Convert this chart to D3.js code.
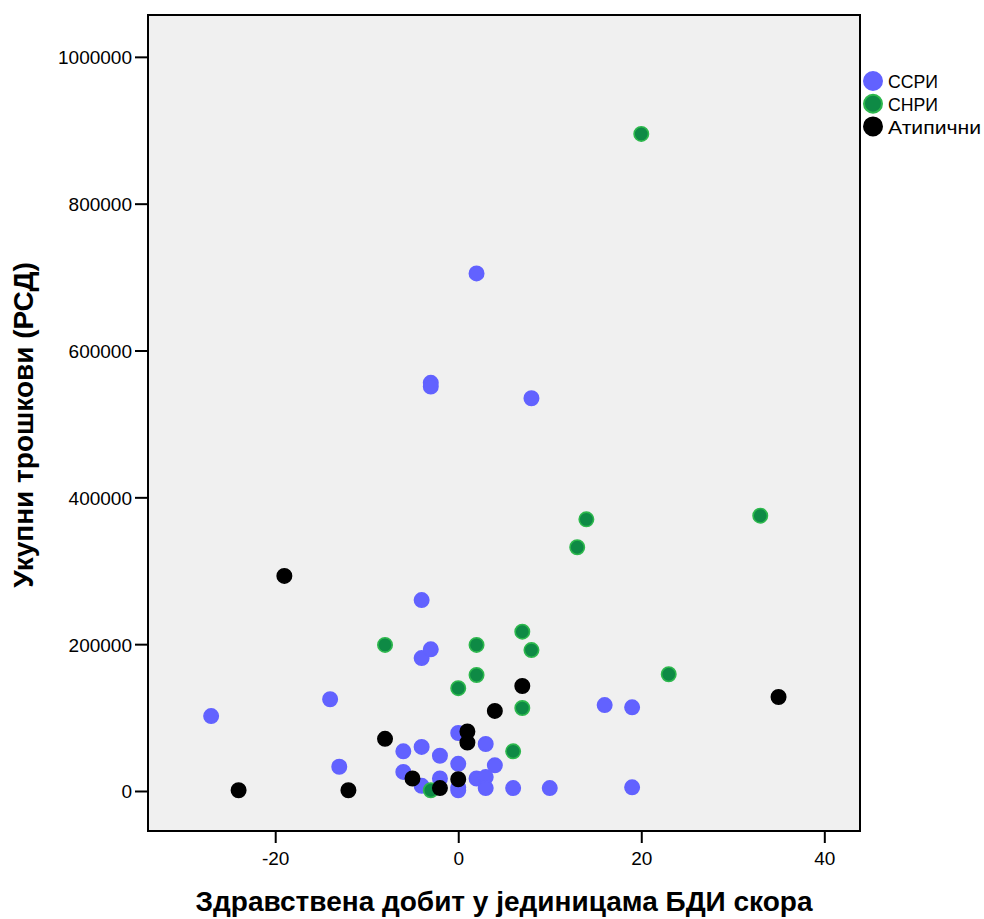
<!DOCTYPE html>
<html><head><meta charset="utf-8">
<script src="https://cdn.jsdelivr.net/npm/d3@7"></script>
<style>body{margin:0;background:#fff}svg{display:block}text{font-family:"Liberation Sans",Arial,sans-serif}</style>
</head><body><svg id="c" width="984" height="919"></svg>
<script>
const groups = ["ССРИ", "СНРИ", "Атипични"];
const groupColors = ["#6262ff", "#0e8a45", "#000000"];
const groupStrokes = ["#6262ff", "#2db84d", "#000000"];
const xTicks = [-20, 0, 20, 40];
const yTicks = [0, 200000, 400000, 600000, 800000, 1000000];

// ССРИ
const ssriX = [-27,-14,-13,-4,-3,-4,-3,-3,2,8,16,19,19,10,6,0,3,-6,-4,-2,0,4,-6,-4,-2,0,0,2,3,3];
const ssriY = [102000,125000,33000,181000,193000,260000,556000,551000,705000,535000,117000,114000,5000,4000,4000,79000,64000,54000,60000,48000,37000,35000,26000,7000,17000,5000,1000,17000,19000,4000];
// СНРИ
const snriX = [20,14,13,33,23,-8,2,7,8,2,0,7,6,-3];
const snriY = [895000,370000,332000,375000,159000,199000,199000,217000,192000,158000,140000,113000,54000,1000];
// Атипични
const atypX = [-24,-12,-19,-8,-5,-2,0,1,1,4,7,35];
const atypY = [1000,1000,293000,71000,17000,4000,16000,81000,66000,109000,143000,128000];

const svg = d3.select("#c");
const L = 148, R = 860, T = 15, B = 831;
const x = d3.scaleLinear().domain([-33.9, 43.9]).range([L, R]);
const y = d3.scaleLinear().domain([-54500, 1057000]).range([B, T]);

svg.append("rect").attr("x", L).attr("y", T).attr("width", R - L).attr("height", B - T)
  .attr("fill", "#f0f0f0");

const yAxis = svg.append("g").attr("transform", `translate(${L},0)`)
  .call(d3.axisLeft(y).tickValues(yTicks).tickFormat(d3.format("d")).tickSize(13).tickPadding(3));
const xAxis = svg.append("g").attr("transform", `translate(0,${B})`)
  .call(d3.axisBottom(x).tickValues(xTicks).tickFormat(d3.format("d")).tickSize(12).tickPadding(9));
[yAxis, xAxis].forEach(a => {
  a.select(".domain").remove();
  a.selectAll(".tick line").attr("stroke", "#000").attr("stroke-width", 2);
  a.selectAll(".tick text").attr("font-size", 19).attr("fill", "#000")
    .style("font-family", "'Liberation Sans',Arial,sans-serif");
});
yAxis.selectAll(".tick text").attr("dy", "0.36em");
xAxis.selectAll(".tick text").text(d => d < 0 ? "-" + Math.abs(d) : d);

const data = [];
ssriX.forEach((v, i) => data.push({g: 0, x: v, y: ssriY[i]}));
snriX.forEach((v, i) => data.push({g: 1, x: v, y: snriY[i]}));
atypX.forEach((v, i) => data.push({g: 2, x: v, y: atypY[i]}));

const pts = svg.append("g");
[0, 1, 2].forEach(g => {
  pts.selectAll(null).data(data.filter(d => d.g === g)).enter().append("circle")
    .attr("cx", d => x(d.x)).attr("cy", d => y(d.y)).attr("r", 7.2)
    .attr("fill", groupColors[g]).attr("stroke", groupStrokes[g]).attr("stroke-width", 1.6);
});

svg.append("rect").attr("x", L).attr("y", T).attr("width", R - L).attr("height", B - T)
  .attr("fill", "none").attr("stroke", "#000").attr("stroke-width", 2);

const legLens = [50, 50, 93];
const leg = svg.append("g");
groups.forEach((g, i) => {
  leg.append("circle").attr("cx", 873).attr("cy", 81 + i * 22.7).attr("r", 9)
    .attr("fill", groupColors[i]).attr("stroke", groupStrokes[i]).attr("stroke-width", 2);
  leg.append("text").attr("x", 888).attr("y", 87.5 + i * 23).attr("font-size", 18.5)
    .attr("textLength", legLens[i]).attr("lengthAdjust", "spacingAndGlyphs")
    .attr("fill", "#000").text(g);
});

svg.append("text").attr("x", 504).attr("y", 911).attr("text-anchor", "middle")
  .attr("font-size", 28).attr("font-weight", "bold").attr("fill", "#000")
  .text("Здравствена добит у јединицама БДИ скора");
svg.append("text").attr("transform", "translate(33,425) rotate(-90)").attr("text-anchor", "middle")
  .attr("font-size", 28).attr("font-weight", "bold").attr("fill", "#000")
  .text("Укупни трошкови (РСД)");
</script></body></html>
